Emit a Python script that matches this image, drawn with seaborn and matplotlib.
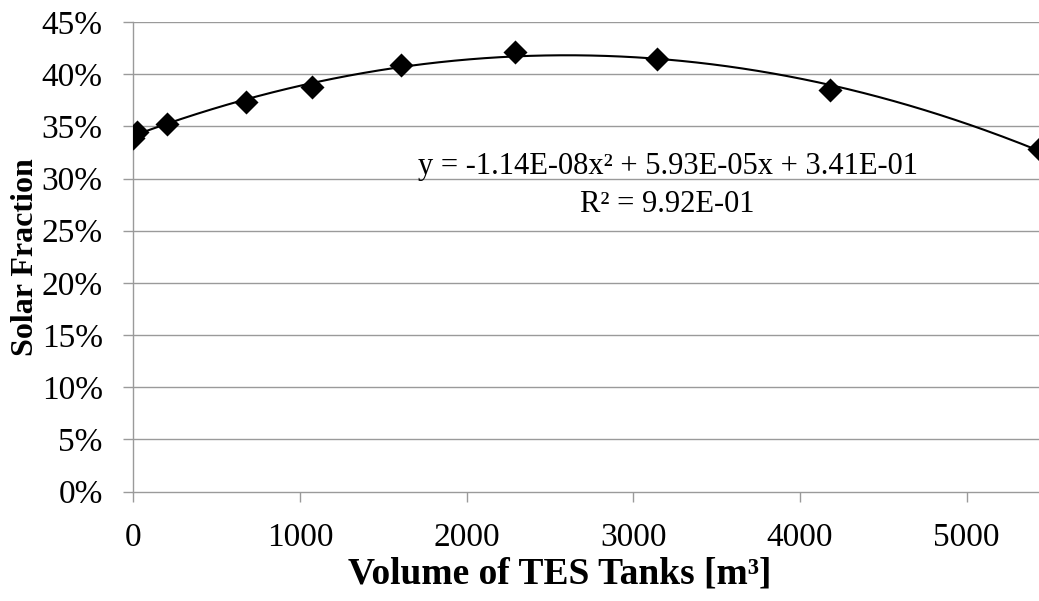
import numpy as np
import pandas as pd
import matplotlib
matplotlib.use("Agg")
import matplotlib.pyplot as plt
import seaborn as sns
from matplotlib.ticker import FuncFormatter

# Simulated TES tank volumes [m³] and resulting solar fraction
volume = [0, 25, 200, 676, 1074, 1606, 2290, 3140, 4180, 5434]
solar_fraction = [0.339, 0.345, 0.352, 0.373, 0.388, 0.409, 0.4215, 0.415, 0.385, 0.328]

# Quadratic trendline coefficients (a2, a1, a0) and goodness of fit
trend_coef = [-1.14e-08, 5.93e-05, 3.41e-01]
r_squared = 9.92e-01

x_ticks = [0, 1000, 2000, 3000, 4000, 5000]
y_ticks = [0.0, 0.05, 0.10, 0.15, 0.20, 0.25, 0.30, 0.35, 0.40, 0.45]
x_max = 5434

sns.set_theme(style="white")
plt.rcParams["font.family"] = ["Liberation Serif", "DejaVu Serif"]
plt.rcParams["text.color"] = "black"
plt.rcParams["axes.labelcolor"] = "black"

df = pd.DataFrame({"volume": volume, "sf": solar_fraction})
xs = np.linspace(0, x_max, 300)
trend = pd.DataFrame({"volume": xs, "sf": np.polyval(trend_coef, xs)})

fig = plt.figure(figsize=(10.39, 6.01), dpi=100)
ax = fig.add_axes([0.1283, 0.1819, 0.8717, 0.7815])

grid_col = "#9a9a9a"
for yt in y_ticks[1:]:
    ax.axhline(yt, color=grid_col, lw=1.0, zorder=0)

sns.lineplot(data=trend, x="volume", y="sf", ax=ax, color="black", lw=1.5, zorder=2)
sns.scatterplot(data=df, x="volume", y="sf", ax=ax, marker="D", s=150,
                color="black", edgecolor="black", linewidth=0, zorder=3)

ax.set_xlim(0, x_max)
ax.set_ylim(0, 0.45)
ax.set_xticks(x_ticks)
ax.set_yticks(y_ticks)
ax.yaxis.set_major_formatter(FuncFormatter(lambda v, _: f"{v*100:.0f}%"))

for side in ["top", "right"]:
    ax.spines[side].set_visible(False)
for side in ["left", "bottom"]:
    ax.spines[side].set_color(grid_col)
    ax.spines[side].set_linewidth(1.0)

ax.tick_params(axis="both", which="major", direction="out", length=7, width=1.0,
               color=grid_col, labelsize=24, labelcolor="black",
               bottom=True, left=True)
ax.tick_params(axis="x", pad=15)
ax.tick_params(axis="y", pad=15)

ax.set_xlabel("Volume of TES Tanks [m³]", fontsize=27, fontweight="bold", color="black")
ax.set_ylabel("Solar Fraction", fontsize=23, fontweight="bold", color="black")
ax.xaxis.set_label_coords(0.471, -0.137)
ax.yaxis.set_label_coords(-0.103, 0.5)

eq = (f"y = {trend_coef[0]:.2E}x² + {trend_coef[1]:.2E}x + {trend_coef[2]:.2E}\n"
      f"R² = {r_squared:.2E}")
ax.text(0.590, 0.652, eq, transform=ax.transAxes, ha="center", va="center",
        fontsize=22, linespacing=1.41, color="black", zorder=4)

fig.savefig("out.png", dpi=100)
